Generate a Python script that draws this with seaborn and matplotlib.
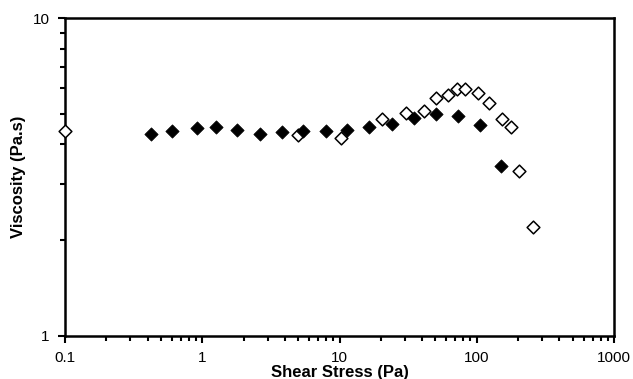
import matplotlib
matplotlib.use("Agg")
import matplotlib.pyplot as plt
import matplotlib.ticker as mticker
import seaborn as sns
import pandas as pd
import numpy as np

# Filled diamonds series
filled_stress = [0.42, 0.60, 0.92, 1.26, 1.80, 2.65, 3.84, 5.46, 8.03, 11.4, 16.5, 24.0, 34.7, 50.2, 72.6, 105, 150]
filled_visc = [4.31, 4.40, 4.50, 4.52, 4.43, 4.31, 4.37, 4.40, 4.40, 4.43, 4.52, 4.65, 4.84, 4.98, 4.93, 4.60, 3.42]

# Open diamonds series
open_stress = [0.1, 5.02, 10.2, 20.3, 30.3, 41.0, 50.2, 61.4, 71.5, 81.7, 101.6, 122, 152, 177, 203, 256]
open_visc = [4.40, 4.27, 4.18, 4.80, 5.02, 5.09, 5.59, 5.72, 5.97, 5.97, 5.80, 5.39, 4.80, 4.52, 3.29, 2.19]

x_ticks = [0.1, 1, 10, 100, 1000]
x_tick_labels = ["0.1", "1", "10", "100", "1000"]
y_ticks = [1, 10]
y_tick_labels = ["1", "10"]

sns.set_theme(style="white")
plt.rcParams['font.family'] = ['Liberation Sans', 'DejaVu Sans']
plt.rcParams['text.color'] = 'black'
plt.rcParams['axes.labelcolor'] = 'black'

fig = plt.figure(figsize=(6.33, 3.79), dpi=100)
ax = fig.add_axes([65/633, 1-335.5/379, (614-65)/633, (335.5-18)/379])

df_open = pd.DataFrame({"stress": open_stress, "visc": open_visc})
df_filled = pd.DataFrame({"stress": filled_stress, "visc": filled_visc})

sns.scatterplot(data=df_open, x="stress", y="visc", ax=ax, marker="D", s=42,
                facecolor="white", edgecolor="black", linewidth=1.1, zorder=3,
                clip_on=False)
sns.scatterplot(data=df_filled, x="stress", y="visc", ax=ax, marker="D", s=46,
                color="black", edgecolor="black", linewidth=0.5, zorder=4,
                clip_on=False)

ax.set_xscale("log")
ax.set_yscale("log")
ax.set_xlim(0.1, 1000)
ax.set_ylim(1, 10)

ax.set_xticks(x_ticks)
ax.set_xticklabels(x_tick_labels)
ax.set_yticks(y_ticks)
ax.set_yticklabels(y_tick_labels)
ax.xaxis.set_minor_locator(mticker.LogLocator(base=10, subs=np.arange(2, 10)))
ax.yaxis.set_minor_locator(mticker.LogLocator(base=10, subs=np.arange(2, 10)))
ax.xaxis.set_minor_formatter(mticker.NullFormatter())
ax.yaxis.set_minor_formatter(mticker.NullFormatter())

ax.tick_params(axis="both", which="major", direction="out", length=5, width=1.5,
               labelsize=11, colors="black", pad=6, bottom=True, left=True)
ax.tick_params(axis="both", which="minor", direction="out", length=3.5, width=1.5,
               colors="black", bottom=True, left=True)

for sp in ax.spines.values():
    sp.set_color("black")
    sp.set_linewidth(1.8)
    sp.set_visible(True)

ax.set_xlabel("Shear Stress (Pa)", fontsize=12, fontweight="bold", labelpad=0, color="black")
ax.set_ylabel("Viscosity (Pa.s)", fontsize=12, fontweight="bold", labelpad=5, color="black")
ax.grid(False)

fig.savefig("out.png", dpi=100, facecolor="white")
